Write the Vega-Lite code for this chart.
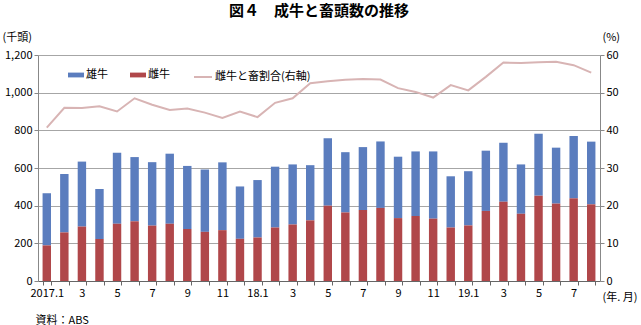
{
  "$schema": "https://vega.github.io/schema/vega-lite/v6.json",
  "width": 562,
  "height": 226,
  "autosize": {"type": "none"},
  "padding": {"left": 38, "top": 55, "right": 41, "bottom": 44},
  "background": "white",
  "config": {
    "font": "Noto Sans CJK JP",
    "view": {"stroke": null},
    "axis": {"labelFontSize": 11, "labelColor": "#000000", "titleColor": "#000000", "titleFontSize": 11, "titleFontWeight": "normal", "tickColor": "#888888", "domainColor": "#888888", "gridColor": "#A6A6A6"}
  },
  "title": {"text": "図４　成牛と畜頭数の推移", "fontSize": 15, "fontWeight": "bold", "anchor": "middle", "offset": 12, "color": "#000000"},
  "data": {"values": [
    {"ym": "2017.1", "雄牛": 277, "雌牛": 189, "ratio": 40.7},
    {"ym": "2017.2", "雄牛": 310, "雌牛": 258, "ratio": 46.0},
    {"ym": "2017.3", "雄牛": 345, "雌牛": 289, "ratio": 45.9},
    {"ym": "2017.4", "雄牛": 266, "雌牛": 223, "ratio": 46.4},
    {"ym": "2017.5", "雄牛": 377, "雌牛": 304, "ratio": 45.0},
    {"ym": "2017.6", "雄牛": 341, "雌牛": 317, "ratio": 48.5},
    {"ym": "2017.7", "雄牛": 337, "雌牛": 294, "ratio": 46.8},
    {"ym": "2017.8", "雄牛": 372, "雌牛": 304, "ratio": 45.4},
    {"ym": "2017.9", "雄牛": 335, "雌牛": 276, "ratio": 45.8},
    {"ym": "2017.10", "雄牛": 331, "雌牛": 261, "ratio": 44.7},
    {"ym": "2017.11", "雄牛": 360, "雌牛": 270, "ratio": 43.3},
    {"ym": "2017.12", "雄牛": 278, "雌牛": 224, "ratio": 45.0},
    {"ym": "2018.1", "雄牛": 305, "雌牛": 231, "ratio": 43.5},
    {"ym": "2018.2", "雄牛": 323, "雌牛": 284, "ratio": 47.3},
    {"ym": "2018.3", "雄牛": 319, "雌牛": 300, "ratio": 48.5},
    {"ym": "2018.4", "雄牛": 293, "雌牛": 322, "ratio": 52.5},
    {"ym": "2018.5", "雄牛": 358, "雌牛": 400, "ratio": 53.0},
    {"ym": "2018.6", "雄牛": 320, "雌牛": 364, "ratio": 53.4},
    {"ym": "2018.7", "雄牛": 334, "雌牛": 377, "ratio": 53.6},
    {"ym": "2018.8", "雄牛": 353, "雌牛": 388, "ratio": 53.5},
    {"ym": "2018.9", "雄牛": 326, "雌牛": 334, "ratio": 51.2},
    {"ym": "2018.10", "雄牛": 343, "雌牛": 345, "ratio": 50.2},
    {"ym": "2018.11", "雄牛": 357, "雌牛": 331, "ratio": 48.7},
    {"ym": "2018.12", "雄牛": 272, "雌牛": 284, "ratio": 52.0},
    {"ym": "2019.1", "雄牛": 288, "雌牛": 295, "ratio": 50.6},
    {"ym": "2019.2", "雄牛": 320, "雌牛": 372, "ratio": 54.2},
    {"ym": "2019.3", "雄牛": 313, "雌牛": 421, "ratio": 58.0},
    {"ym": "2019.4", "雄牛": 262, "雌牛": 357, "ratio": 57.9},
    {"ym": "2019.5", "雄牛": 329, "雌牛": 453, "ratio": 58.1},
    {"ym": "2019.6", "雄牛": 297, "雌牛": 411, "ratio": 58.2},
    {"ym": "2019.7", "雄牛": 331, "雌牛": 439, "ratio": 57.3},
    {"ym": "2019.8", "雄牛": 333, "雌牛": 407, "ratio": 55.3}
  ]},
  "layer": [
    {
      "transform": [{"fold": ["雄牛", "雌牛"], "as": ["key", "value"]}],
      "mark": {"type": "bar"},
      "encoding": {
        "x": {
          "field": "ym", "type": "ordinal", "sort": null,
          "scale": {"paddingInner": 0.52, "paddingOuter": 0.26},
          "axis": {
            "orient": "bottom",
            "title": "(年. 月)", "titleX": 564, "titleY": 16, "titleAlign": "left", "titleBaseline": "middle", "titleAnchor": null,
            "labelAngle": 0, "tickBand": "extent", "tickSize": 4, "labelPadding": 2,
            "domainColor": "#666666", "tickColor": "#666666",
            "labelExpr": "split(datum.value,'.')[1] == '1' ? (split(datum.value,'.')[0] == '2017' ? '2017.1' : substring(datum.value, 2)) : (toNumber(split(datum.value,'.')[1]) % 2 == 1 ? split(datum.value,'.')[1] : '')"
          }
        },
        "y": {
          "field": "value", "type": "quantitative", "stack": "zero",
          "scale": {"domain": [0, 1200], "nice": false},
          "axis": {"values": [0, 200, 400, 600, 800, 1000, 1200], "format": ",.0f", "tickSize": 4, "labelPadding": 2,
            "title": "(千頭)", "titleAngle": 0, "titleX": -36, "titleY": -18, "titleAlign": "left", "titleBaseline": "middle", "grid": true}
        },
        "color": {
          "field": "key", "type": "nominal",
          "scale": {"domain": ["雄牛", "雌牛"], "range": ["#5B7DBE", "#B0474A"]},
          "legend": {"title": null, "orient": "none", "legendX": 30, "legendY": 12, "direction": "horizontal",
            "symbolType": "M-1,-0.3H1V0.3H-1Z", "symbolSize": 256, "symbolStrokeWidth": 0, "labelFontSize": 11, "labelOffset": 2, "columnPadding": 22, "padding": 0}
        },
        "order": {"field": "key", "sort": "descending"}
      }
    },
    {
      "mark": {"type": "line", "strokeWidth": 2},
      "encoding": {
        "x": {"field": "ym", "type": "ordinal", "sort": null,
          "axis": {"orient": "bottom", "labels": false, "ticks": false, "domain": false, "grid": false, "title": "資料：ABS", "titleX": -3, "titleY": 39, "titleAlign": "left", "titleBaseline": "middle", "titleAnchor": null}},
        "y": {
          "field": "ratio", "type": "quantitative",
          "scale": {"domain": [0, 60], "nice": false},
          "axis": {"orient": "right", "values": [0, 10, 20, 30, 40, 50, 60], "grid": false, "tickSize": 4, "labelPadding": 2,
            "title": "(%)", "titleAngle": 0, "titleX": 2, "titleY": -18, "titleAlign": "left", "titleBaseline": "middle"}
        },
        "stroke": {
          "datum": "雌牛と畜割合(右軸)",
          "scale": {"range": ["#D8B4B4"]},
          "legend": {"title": null, "orient": "none", "legendX": 155, "legendY": 12, "symbolType": "stroke", "symbolSize": 324, "symbolStrokeWidth": 2, "labelFontSize": 11, "labelOffset": 2, "padding": 0}
        }
      }
    }
  ],
  "resolve": {"scale": {"y": "independent"}, "axis": {"x": "independent"}}
}
